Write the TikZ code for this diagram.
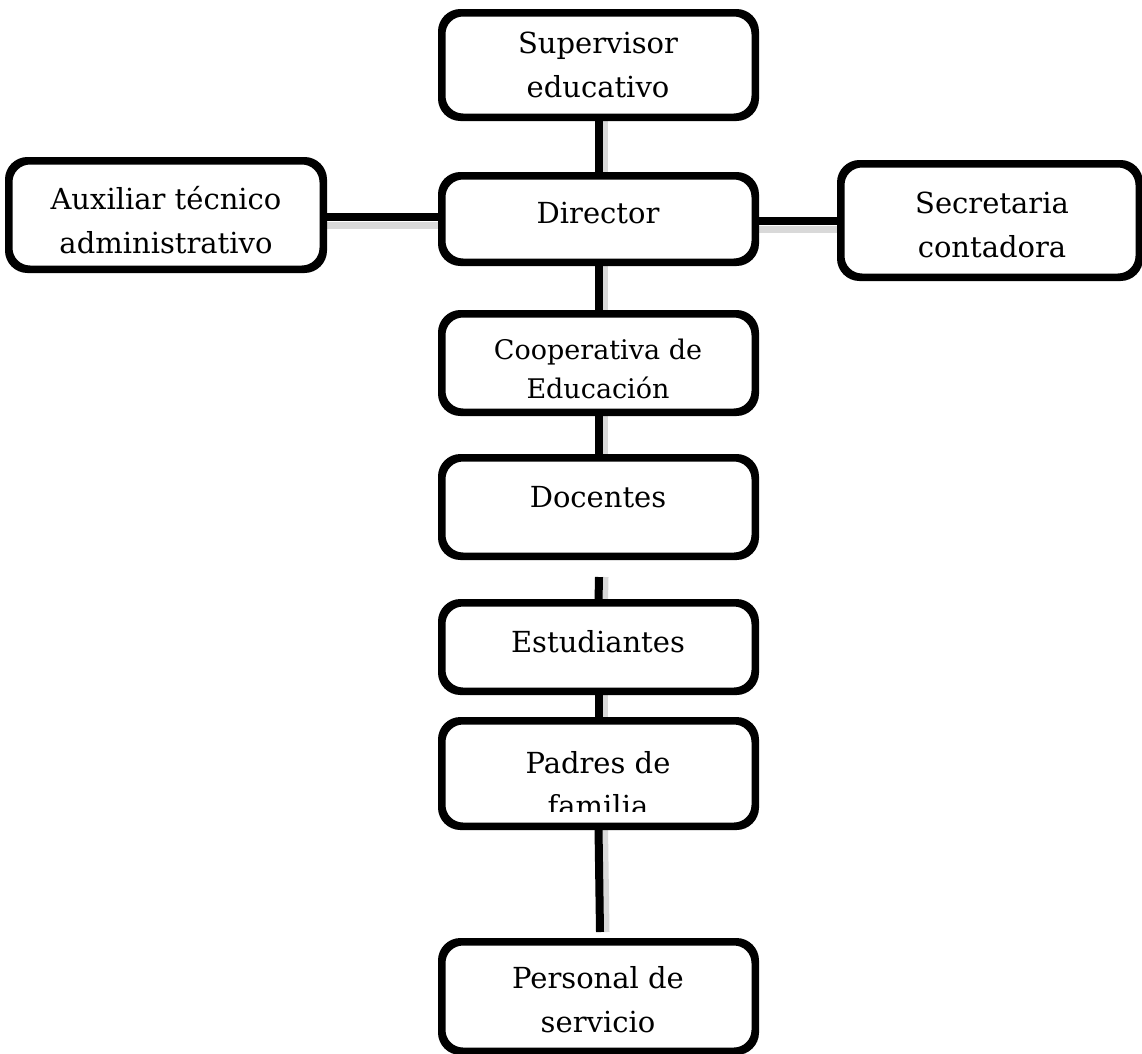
\documentclass[tikz,border=0pt]{standalone}
\usepackage{fontspec}
\setmainfont{DejaVu Serif}
\begin{document}
\begin{tikzpicture}[x=1pt,y=-1pt,
  box/.style={draw=black, line width=5pt, rounded corners=20pt, fill=white, inner sep=0pt},
  lbl/.style={align=center, font=\fontsize{29}{44}\selectfont, inner sep=0pt},
  conn/.style={draw=black, line width=8pt},
  shd/.style={draw=black!15, line width=7pt}]
\useasboundingbox (0,0) rectangle (1142,1053);
% boxes
\node[box, minimum width=311pt, minimum height=102pt] (sup) at (598.5,65) {};
\node[box, minimum width=311pt, minimum height=84pt] (dir) at (598.5,219) {};
\node[box, minimum width=312pt, minimum height=106pt] (aux) at (166,215) {};
\node[box, minimum width=296pt, minimum height=111pt] (sec) at (990,220.5) {};
\node[box, minimum width=311pt, minimum height=96pt] (coop) at (598.5,363) {};
\node[box, minimum width=311pt, minimum height=96pt] (doc) at (598.5,507) {};
\node[box, minimum width=311pt, minimum height=86pt] (est) at (598.5,647) {};
\node[box, minimum width=311pt, minimum height=103pt] (pad) at (598.5,773.5) {};
\node[box, minimum width=311pt, minimum height=107pt] (per) at (598.5,996.5) {};
% free ends
\coordinate (docend) at (599,577);
\coordinate (perend) at (600,932);
% shadows
\draw[shd] ([xshift=6pt]sup.south) -- ([xshift=6pt]dir.north);
\draw[shd] ([xshift=6pt]dir.south) -- ([xshift=6pt]coop.north);
\draw[shd] ([xshift=6pt]coop.south) -- ([xshift=6pt]doc.north);
\draw[shd] ([xshift=6pt]docend) -- ([xshift=6pt]est.north);
\draw[shd] ([xshift=6pt]est.south) -- ([xshift=6pt]pad.north);
\draw[shd] ([xshift=6pt]pad.south) -- ([xshift=6pt]perend);
\draw[shd] ([yshift=-8pt]aux.east |- 0,217) -- ([yshift=-8pt]dir.west |- 0,217);
\draw[shd] ([yshift=-8pt]dir.east |- 0,221) -- ([yshift=-8pt]sec.west |- 0,221);
% connectors
\draw[conn] (sup.south) -- (dir.north);
\draw[conn] (dir.south) -- (coop.north);
\draw[conn] (coop.south) -- (doc.north);
\draw[conn] (docend) -- (est.north);
\draw[conn] (est.south) -- (pad.north);
\draw[conn] (pad.south) -- (perend);
\draw[conn] (aux.east |- 0,217) -- (dir.west |- 0,217);
\draw[conn] (dir.east |- 0,221) -- (sec.west |- 0,221);
% box borders over connectors
\foreach \n in {sup,dir,aux,sec,coop,doc,est,pad,per}
  \draw[line width=5pt, rounded corners=20pt] (\n.north west) rectangle (\n.south east);
% labels
\node[lbl] (tsup) at (598,65) {Supervisor\\educativo};
\node[lbl] (tdir) at (598,213) {Director};
\node[lbl] (taux) at (166,220) {Auxiliar técnico\\administrativo};
\node[lbl] (tsec) at (992,225) {Secretaria\\contadora};
\node[lbl, font=\fontsize{27}{39}\selectfont] (tcoop) at (598,369) {Cooperativa de\\Educación};
\node[lbl] (tdoc) at (598,497) {Docentes};
\node[lbl] (test) at (598,642) {Estudiantes};
\begin{scope}
  \clip (450,728) rectangle (746,811);
  \node[lbl, font=\fontsize{29}{43}\selectfont] (tpad) at (598,784) {Padres de\\familia};
\end{scope}
\node[lbl] (tper) at (598,1000) {Personal de\\servicio};
\end{tikzpicture}
\end{document}
